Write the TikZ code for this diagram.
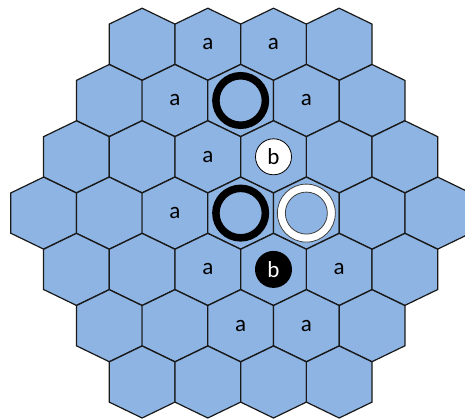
\documentclass[tikz,border=0pt]{standalone}
\usepackage{fontspec}
\setmainfont{Carlito}
\definecolor{hexfill}{HTML}{8EB4E3}
\begin{document}
\begin{tikzpicture}[x=1pt,y=-1pt,
  hexcell/.style={fill=hexfill,draw=black!90,line width=1.2pt,line join=miter},
  lab/.style={font=\fontsize{23}{27}\selectfont,inner sep=0pt},
  blackring/.style={circle,draw=black,line width=7.5pt,minimum size=49.5pt,inner sep=0pt},
  whiteringout/.style={circle,fill=white,draw=black!75,line width=0.8pt,minimum size=58pt,inner sep=0pt},
  whiteringin/.style={circle,fill=hexfill,draw=black!75,line width=0.8pt,minimum size=42pt,inner sep=0pt},
  whitestone/.style={circle,fill=white,draw=black,line width=0.8pt,minimum size=36pt,inner sep=0pt,font=\fontsize{23}{27}\selectfont},
  blackstone/.style={circle,fill=black,text=white,minimum size=37pt,inner sep=0pt,font=\fontsize{23}{27}\selectfont}]
\useasboundingbox (0,0) rectangle (465,419);
\begin{scope}
\clip (0,0) rectangle (465,419);
\foreach \i in {0,...,6}{
  \pgfmathtruncatemacro\dd{abs(\i-3)}
  \pgfmathtruncatemacro\nn{6-\dd}
  \foreach \j in {0,...,\nn}{
    \pgfmathsetmacro\cx{43.55+\dd*32.85+\j*65.7}
    \pgfmathsetmacro\cy{44.2+\i*56.3}
    \coordinate (h\i-\j) at (\cx,\cy);
    \draw[hexcell] (\cx,\cy) ++(0,-36) -- ++(32.85,15.9) -- ++(0,40.2) -- ++(-32.85,15.9) -- ++(-32.85,-15.9) -- ++(0,-40.2) -- cycle;
  }
}
\end{scope}
% labels a
\node[lab] (a1) at (h0-1) {a};
\node[lab] (a2) at (h0-2) {a};
\node[lab] (a3) at (h1-1) {a};
\node[lab] (a4) at (h1-3) {a};
\node[lab] (a5) at (h2-2) {a};
\node[lab] (a6) at (h3-2) {a};
\node[lab] (a7) at (h4-2) {a};
\node[lab] (a8) at (h4-4) {a};
\node[lab] (a9) at (h5-2) {a};
\node[lab] (a10) at (h5-3) {a};
% rings
\node[blackring] (ring1) at (h1-2) {};
\node[blackring] (ring2) at (h3-3) {};
\node[whiteringout] (wring) at (h3-4) {};
\node[whiteringin] (wringin) at (h3-4) {};
% stones
\node[whitestone] (bw) at (h2-3) {b};
\node[blackstone] (bb) at (h4-3) {b};
\end{tikzpicture}
\end{document}
